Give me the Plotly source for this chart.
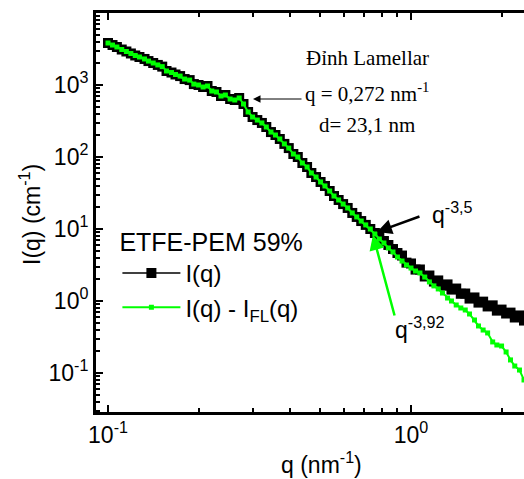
import math
import plotly.graph_objects as go

# ---- data ----
q = [0.100, 0.1035, 0.107, 0.111, 0.115, 0.119, 0.123, 0.127, 0.132, 0.136,
     0.141, 0.146, 0.151, 0.156, 0.162, 0.167, 0.173, 0.179, 0.186, 0.192,
     0.199, 0.206, 0.213, 0.220, 0.228, 0.236, 0.244, 0.253, 0.262, 0.271,
     0.280, 0.290, 0.300, 0.311, 0.322, 0.333, 0.345, 0.357, 0.369, 0.382,
     0.395, 0.409, 0.423, 0.438, 0.454, 0.469, 0.486, 0.503, 0.520, 0.539,
     0.557, 0.577, 0.597, 0.618, 0.640, 0.662, 0.685, 0.709, 0.734, 0.760,
     0.786, 0.814, 0.842, 0.872, 0.902, 0.934, 0.966, 1.000, 1.035, 1.070,
     1.110, 1.150, 1.190, 1.230, 1.270, 1.320, 1.360, 1.410, 1.460, 1.510,
     1.560, 1.620, 1.670, 1.730, 1.790, 1.860, 1.920, 1.990, 2.060, 2.130,
     2.200, 2.280, 2.360, 2.440]

I_total = [3830, 3590, 3370, 3110, 2920, 2740, 2570, 2450, 2300, 2150,
           2020, 1900, 1800, 1565, 1490, 1400, 1330, 1210, 1170, 1030,
           1000, 938, 968, 825, 800, 703, 726, 639, 619, 660,
           545, 422, 359, 326, 297, 261, 222, 202, 178, 152,
           133, 110, 100, 82.5, 72.6, 60.0, 52.7, 45.0, 39.6, 33.7,
           28.7, 25.3, 22.2, 19.6, 16.7, 14.7, 12.9, 11.4, 10.0, 8.80,
           7.74, 6.81, 6.00, 5.27, 4.64, 4.28, 3.41, 3.32, 2.73, 2.74,
           2.19, 2.26, 1.86, 1.93, 1.63, 1.70, 1.44, 1.49, 1.26, 1.27,
           1.08, 1.12, 0.95, 0.98, 0.84, 0.87, 0.735, 0.76, 0.67, 0.69,
           0.59, 0.63, 0.535, 0.575]

I_sub = [3830, 3590, 3370, 3110, 2920, 2740, 2570, 2450, 2300, 2150,
         2020, 1900, 1800, 1565, 1490, 1400, 1330, 1210, 1170, 1030,
         1000, 938, 968, 825, 800, 703, 726, 639, 619, 660,
         545, 422, 359, 326, 297, 261, 222, 202, 178, 152,
         133, 110, 100, 82.5, 72.6, 60.0, 52.7, 45.0, 39.6, 33.7,
         28.7, 25.3, 22.2, 19.6, 16.7, 14.7, 12.9, 11.4, 10.0, 8.53,
         7.26, 6.39, 5.45, 4.79, 4.08, 3.59, 3.16, 2.87, 2.61, 2.45,
         2.15, 1.84, 1.62, 1.47, 1.29, 1.10, 1.00, 0.88, 0.80, 0.75,
         0.66, 0.545, 0.45, 0.395, 0.36, 0.27, 0.245, 0.237, 0.196, 0.152,
         0.125, 0.110, 0.080, 0.068]

series_names = ["I(q)", "I(q) - I<sub>FL</sub>(q)"]
legend_title = "ETFE-PEM 59%"

x_major = [0.1, 1]
x_major_text = ["10<sup>-1</sup>", "10<sup>0</sup>"]
x_minor = [0.09, 0.2, 0.3, 0.4, 0.5, 0.6, 0.7, 0.8, 0.9, 2]
y_major = [0.1, 1, 10, 100, 1000]
y_major_text = ["10<sup>-1</sup>", "10<sup>0</sup>", "10<sup>1</sup>",
                "10<sup>2</sup>", "10<sup>3</sup>"]
y_minor = [0.03, 0.04, 0.05, 0.06, 0.07, 0.08, 0.09,
           0.2, 0.3, 0.4, 0.5, 0.6, 0.7, 0.8, 0.9,
           2, 3, 4, 5, 6, 7, 8, 9,
           20, 30, 40, 50, 60, 70, 80, 90,
           200, 300, 400, 500, 600, 700, 800, 900,
           2000, 3000, 4000, 5000, 6000, 7000, 8000, 9000]

# annotation anchor points (data units)
lamellar_tip = (0.301, 639)
cross_tip_black = (0.772, 9.09)
cross_tip_green = (0.749, 8.25)

SANS = "Liberation Sans, Arial, sans-serif"
SERIF = "Liberation Serif, Times New Roman, serif"
GREEN = "#00FF00"

fig = go.Figure()
fig.add_trace(go.Scatter(
    x=q, y=I_total, mode="lines+markers", name=series_names[0],
    line=dict(color="black", width=1.5),
    marker=dict(symbol="square", size=10, color="black")))
fig.add_trace(go.Scatter(
    x=q, y=I_sub, mode="lines+markers", name=series_names[1],
    line=dict(color=GREEN, width=2),
    marker=dict(symbol="square", size=5, color=GREEN)))

axis_common = dict(type="log", showline=True, linewidth=3, linecolor="black",
                   ticks="inside", ticklen=7, tickwidth=2, tickcolor="black",
                   showgrid=False, zeroline=False,
                   tickfont=dict(family=SANS, size=23, color="black"))

fig.update_xaxes(range=[-1.0396, 0.3729], mirror="ticks",
                 tickmode="array", tickvals=x_major, ticktext=x_major_text,
                 minor=dict(ticks="inside", ticklen=4, tickwidth=2, tickcolor="black",
                            tickmode="array", tickvals=x_minor, showgrid=False),
                 **axis_common)
fig.update_yaxes(range=[-1.5417, 4.0], mirror=False,
                 tickmode="array", tickvals=y_major, ticktext=y_major_text,
                 minor=dict(ticks="inside", ticklen=4, tickwidth=2, tickcolor="black",
                            tickmode="array", tickvals=y_minor, showgrid=False),
                 **axis_common)

L = math.log10

annotations = [
    # axis titles
    dict(text="q (nm<sup>-1</sup>)", xref="paper", yref="paper", x=0.528, y=-0.127,
         xanchor="center", yanchor="middle", showarrow=False,
         font=dict(family=SANS, size=23, color="black")),
    dict(text="I(q) (cm<sup>-1</sup>)", xref="paper", yref="paper", x=-0.154, y=0.494,
         xanchor="center", yanchor="middle", showarrow=False, textangle=-90,
         font=dict(family=SANS, size=23, color="black")),
    # lamellar peak text
    dict(text="Đỉnh Lamellar", x=-0.1452, y=3.375, xanchor="center", yanchor="middle",
         showarrow=False, font=dict(family=SERIF, size=21, color="black")),
    dict(text="q = 0,272 nm<sup>-1</sup>", x=-0.1452, y=2.889, xanchor="center",
         yanchor="middle", showarrow=False, font=dict(family=SERIF, size=21, color="black")),
    dict(text="d= 23,1 nm", x=-0.1452, y=2.444, xanchor="center", yanchor="middle",
         showarrow=False, font=dict(family=SERIF, size=21, color="black")),
    dict(text="", x=L(lamellar_tip[0]), y=L(lamellar_tip[1]), ax=50, ay=0,
         showarrow=True, arrowhead=2, arrowsize=1.5, arrowwidth=1, arrowcolor="black",
         standoff=0),
    # slopes
    dict(text="q<sup>-3,5</sup>", x=0.0627, y=1.222, xanchor="left", yanchor="middle",
         showarrow=False, font=dict(family=SANS, size=23, color="black")),
    dict(text="", x=L(cross_tip_black[0]), y=L(cross_tip_black[1]), ax=44, ay=-16,
         showarrow=True, arrowhead=2, arrowsize=1.2, arrowwidth=2.5, arrowcolor="black",
         standoff=0),
    dict(text="q<sup>-3,92</sup>", x=-0.0594, y=-0.375, xanchor="left", yanchor="middle",
         showarrow=False, font=dict(family=SANS, size=23, color="black")),
    dict(text="", x=L(cross_tip_green[0]), y=L(cross_tip_green[1]), ax=22, ay=82,
         showarrow=True, arrowhead=2, arrowsize=1.2, arrowwidth=2.5, arrowcolor=GREEN,
         standoff=0),
]

fig.update_layout(
    width=524, height=479,
    margin=dict(l=96, r=0, t=13, b=67, pad=0),
    paper_bgcolor="white", plot_bgcolor="white",
    font=dict(family=SANS, size=23, color="black"),
    showlegend=True,
    legend=dict(x=0.05, y=0.485, xanchor="left", yanchor="top",
                bgcolor="rgba(0,0,0,0)", borderwidth=0,
                itemwidth=58, tracegroupgap=0,
                font=dict(family=SANS, size=24, color="black"),
                title=dict(text=legend_title, font=dict(family=SANS, size=25, color="black"))),
    annotations=annotations,
)

fig.write_html("out.html")
